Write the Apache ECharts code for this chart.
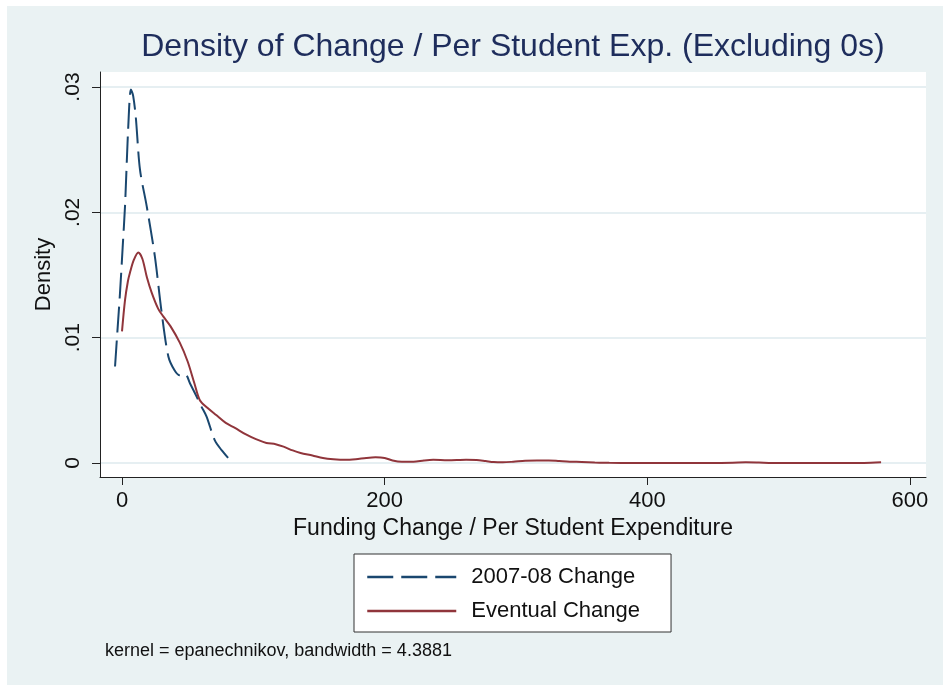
<!DOCTYPE html>
<html>
<head>
<meta charset="utf-8">
<script src="https://cdn.jsdelivr.net/npm/echarts@6/dist/echarts.min.js"></script>
<style>
  html, body { margin: 0; padding: 0; background: #fff; }
  #chart { position: absolute; left: 7px; top: 6px; width: 936px; height: 679px; }
</style>
</head>
<body>
<div id="chart"></div>
<script>
// 2007-08 change density
const shortX = [-5.3, -3.5, -1.5, 0.5, 2.3, 4.8, 6.8, 8.5, 10.5, 13.7, 18.8, 25, 30.2, 35.3, 40, 44, 48, 52, 56.8, 60.5, 64.4, 70.7, 76, 80.8]
const shortY = [0.0077, 0.0105, 0.0136, 0.0172, 0.0205, 0.0269, 0.0298, 0.0293, 0.0276, 0.0234, 0.0205, 0.0165, 0.0120, 0.0085, 0.0074, 0.0070, 0.0071, 0.0063, 0.0053, 0.0045, 0.0037, 0.0018, 0.0010, 0.0004]

// eventual change density
const eventualX = [0, 2.3, 4.5, 6.1, 9, 12.4, 15.5, 19, 22.6, 27.6, 31.4, 37, 44, 50, 55, 59.3, 65, 72, 79, 86, 94, 102, 110, 117, 123, 130, 136, 145, 153, 161, 170, 178, 186, 193, 200, 206, 213, 222, 230, 237, 248, 262, 270, 277, 283, 290, 298, 307, 316, 325, 333, 341, 350, 360, 371, 390, 420, 450, 465, 475, 485, 495, 520, 550, 565, 578]
const eventualY = [0.0105, 0.0130, 0.0145, 0.0152, 0.0162, 0.0168, 0.0163, 0.0148, 0.0136, 0.0123, 0.0117, 0.0109, 0.0096, 0.0081, 0.0064, 0.0050, 0.0044, 0.0038, 0.0032, 0.0028, 0.0023, 0.0019, 0.0016, 0.0015, 0.0013, 0.0010, 0.0008, 0.0006, 0.0004, 0.0003, 0.00025, 0.0003, 0.0004, 0.00045, 0.0004, 0.0002, 0.0001, 0.0001, 0.0002, 0.00025, 0.00022, 0.00026, 0.00024, 0.00015, 0.00007, 0.00005, 0.0001, 0.00018, 0.0002, 0.0002, 0.00015, 0.0001, 0.00008, 0.00004, 0.00001, 0, 0, 0, 0.00002, 0.00005, 0.00003, 0, 0, 0, 0, 0.00005]

const xTicks = [0, 200, 400, 600]
const yTicks = [0, 0.01, 0.02, 0.03]
const yTickLabels = ['0', '.01', '.02', '.03']
const seriesNames = ['2007-08 Change', 'Eventual Change']

const font = "'Liberation Sans', Arial, Helvetica, sans-serif"
const navy = '#1a476f'
const maroon = '#90353b'

const chart = echarts.init(document.getElementById('chart'))

chart.setOption({
  backgroundColor: '#eaf2f3',
  animation: false,
  title: {
    text: 'Density of Change / Per Student Exp. (Excluding 0s)',
    left: 506,
    textAlign: 'center',
    top: 25,
    padding: 0,
    textStyle: { fontFamily: font, fontWeight: 'normal', fontSize: 32, color: '#1e2d5c' }
  },
  grid: {
    left: 93,
    top: 66,
    width: 826,
    height: 405,
    show: true,
    backgroundColor: '#fff',
    borderWidth: 0
  },
  legend: {
    orient: 'vertical',
    left: 347,
    top: 548,
    data: seriesNames,
    itemWidth: 89,
    itemHeight: 22,
    itemGap: 12,
    padding: [12, 31, 10, 12],
    backgroundColor: '#fff',
    borderColor: '#333',
    borderWidth: 1,
    borderRadius: 0,
    itemStyle: { opacity: 0 },
    lineStyle: { width: 2.5 },
    textStyle: { fontFamily: font, fontSize: 22, color: '#111', padding: [0, 0, 0, 10] }
  },
  graphic: [
    {
      type: 'text',
      left: 98,
      top: 636,
      style: { text: 'kernel = epanechnikov, bandwidth = 4.3881', font: '18px ' + font, fill: '#111' }
    }
  ],
  xAxis: {
    type: 'value',
    min: -16.75,
    max: 612.2,
    name: 'Funding Change / Per Student Expenditure',
    nameLocation: 'middle',
    nameGap: 40,
    nameTextStyle: { fontFamily: font, fontSize: 23, color: '#111', verticalAlign: 'top' },
    axisLine: { show: true, onZero: false, lineStyle: { color: '#222', width: 1 } },
    axisTick: { show: true, length: 8, customValues: xTicks, lineStyle: { color: '#222' } },
    axisLabel: { customValues: xTicks, margin: 13, fontFamily: font, fontSize: 22, color: '#111' },
    splitLine: { show: false }
  },
  yAxis: {
    type: 'value',
    min: -0.00112,
    max: 0.0312,
    name: 'Density',
    nameLocation: 'middle',
    nameGap: 45,
    nameTextStyle: { fontFamily: font, fontSize: 22, color: '#111' },
    axisLine: { show: true, onZero: false, lineStyle: { color: '#222', width: 1 } },
    axisTick: { show: true, length: 8, customValues: yTicks, lineStyle: { color: '#222' } },
    axisLabel: {
      customValues: yTicks,
      rotate: 90,
      margin: 16,
      fontFamily: font,
      fontSize: 21,
      color: '#111',
      formatter: v => yTickLabels[yTicks.findIndex(t => Math.abs(t - v) < 1e-9)]
    },
    splitLine: { show: true, lineStyle: { color: '#e6eff2', width: 2 } }
  },
  series: [
    {
      name: seriesNames[0],
      type: 'line',
      data: shortX.map((x, i) => [x, shortY[i]]),
      showSymbol: false,
      symbol: 'none',
      smooth: 0.3,
      lineStyle: { color: navy, width: 2, type: [26, 8] },
      itemStyle: { color: navy }
    },
    {
      name: seriesNames[1],
      type: 'line',
      data: eventualX.map((x, i) => [x, eventualY[i]]),
      showSymbol: false,
      symbol: 'none',
      smooth: 0.3,
      lineStyle: { color: maroon, width: 2 },
      itemStyle: { color: maroon }
    }
  ]
})
</script>
</body>
</html>
